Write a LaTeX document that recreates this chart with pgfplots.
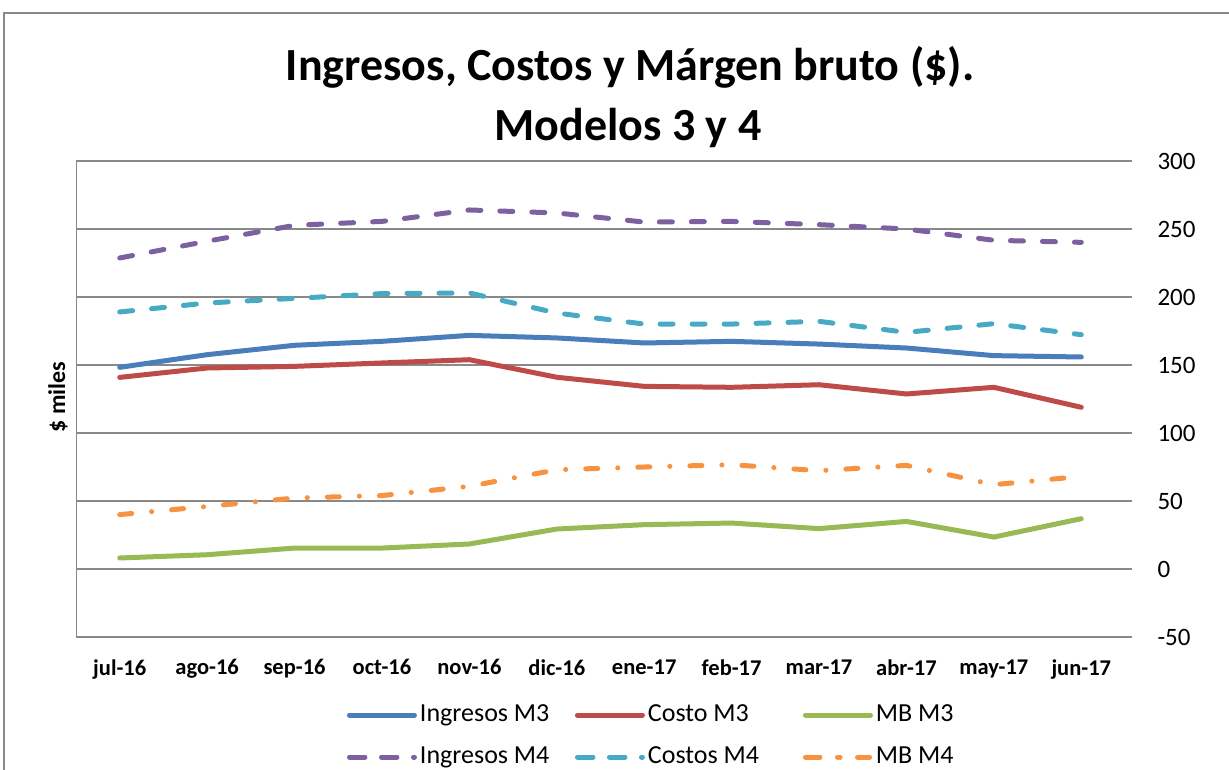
\documentclass[border=0pt]{standalone}
\usepackage{fontspec}
\setmainfont{Carlito}
\usepackage{pgfplots}
\pgfplotsset{compat=1.18}
\definecolor{cIM3}{HTML}{4A7EBB}
\definecolor{cCM3}{HTML}{BE4B48}
\definecolor{cMB3}{HTML}{98B954}
\definecolor{cIM4}{HTML}{7D60A0}
\definecolor{cCM4}{HTML}{46AAC5}
\definecolor{cMB4}{HTML}{F69240}
\definecolor{gridgray}{HTML}{898989}
\begin{document}
\begin{tikzpicture}[x=1pt,y=1pt]
\useasboundingbox (0,0) rectangle (1229,-769);
\draw[color=gridgray, line width=2pt] (4,-13) rectangle (1300,-900);
\node[anchor=base, font=\fontsize{46}{50}\selectfont\bfseries] at (630,-80) {Ingresos, Costos y Márgen bruto (\$).};
\node[anchor=base, font=\fontsize{46}{50}\selectfont\bfseries] at (628,-140) {Modelos 3 y 4};
\node[rotate=90, font=\fontsize{24}{28}\selectfont\bfseries] at (58,-397) {\$ miles};
\begin{axis}[at={(76pt,-637pt)}, anchor=south west, scale only axis,
  width=1049pt, height=476pt,
  xmin=-0.5, xmax=11.5, ymin=-50, ymax=300,
  xtick={0,...,11},
  xticklabels={jul-16,ago-16,sep-16,oct-16,nov-16,dic-16,ene-17,feb-17,mar-17,abr-17,may-17,jun-17},
  ytick={-50,0,50,100,150,200,250,300},
  yticklabels={-50,0,50,100,150,200,250,300},
  ymajorgrids, grid style={gridgray, line width=1.2pt},
  axis line style={draw=none},
  ytick pos=right, yticklabel pos=right, xtick pos=bottom,
  tick align=outside, major tick length=7pt,
  ytick style={gridgray, line width=1.2pt},
  xtick style={draw=none},
  x tick label style={font=\fontsize{22.5}{26}\selectfont\bfseries, yshift=-12pt},
  y tick label style={font=\fontsize{25}{30}\selectfont, anchor=west, xshift=22pt},
  /pgf/number format/assume math mode=true,
  legend columns=3,
  legend cell align=left,
  legend style={at={(0.2583,-0.1355)}, anchor=north west, draw=none, fill=none,
    inner sep=0pt, outer sep=0pt, column sep=0pt, row sep=15pt,
    font=\fontsize{26}{30}\selectfont,
    nodes={inner sep=0pt, text height=20pt, text depth=7pt}},
  legend image code/.code={\draw[#1] (2.5pt,0pt) -- (62.5pt,0pt); \path (0pt,0pt) -- (65pt,0pt);},
  every axis plot/.append style={line width=5pt, line join=round},
]
\draw[gridgray, line width=1.2pt] (rel axis cs:0,0) -- (rel axis cs:0,1);
\addplot[cIM3, line cap=round] coordinates {(0,148.3)(1,157.6)(2,164.5)(3,167.4)(4,171.8)(5,169.9)(6,166.2)(7,167.4)(8,165.4)(9,162.5)(10,156.9)(11,155.9)};
\addlegendentry{\makebox[158pt][l]{\hspace{3pt}Ingresos M3}}
\addplot[cCM3, line cap=round] coordinates {(0,140.9)(1,147.8)(2,149)(3,151.5)(4,153.9)(5,141)(6,134.3)(7,133.6)(8,135.5)(9,128.7)(10,133.6)(11,118.9)};
\addlegendentry{\makebox[158pt][l]{\hspace{3pt}Costo M3}}
\addplot[cMB3, line cap=round] coordinates {(0,8.1)(1,10.5)(2,15.4)(3,15.4)(4,18.4)(5,29.4)(6,32.6)(7,33.8)(8,29.7)(9,35)(10,23.5)(11,37)};
\addlegendentry{\makebox[158pt][l]{\hspace{3pt}MB M3}}
\addplot[cIM4, line cap=round, dash pattern=on 13pt off 19pt]
  coordinates {(0,228.7)(1,241)(2,252.7)(3,255.6)(4,264)(5,261.8)(6,255.1)(7,255.6)(8,253.2)(9,250)(10,241.7)(11,240.2)};
\addlegendentry{\makebox[158pt][l]{\hspace{3pt}Ingresos M4}}
\addplot[cCM4, line cap=round, dash pattern=on 13pt off 19pt]
  coordinates {(0,189)(1,195.6)(2,199)(3,202.5)(4,203)(5,188.2)(6,180.1)(7,180.1)(8,182.1)(9,174)(10,180.4)(11,172.3)};
\addlegendentry{\makebox[158pt][l]{\hspace{3pt}Costos M4}}
\addplot[cMB4, line cap=round, dash pattern=on 12pt off 20pt on 0.1pt off 20pt]
  coordinates {(0,40)(1,46)(2,52.2)(3,54)(4,60.8)(5,73)(6,75)(7,76.7)(8,72.3)(9,76.2)(10,62)(11,68.1)};
\addlegendentry{\makebox[158pt][l]{\hspace{3pt}MB M4}}
\end{axis}
\end{tikzpicture}
\end{document}
